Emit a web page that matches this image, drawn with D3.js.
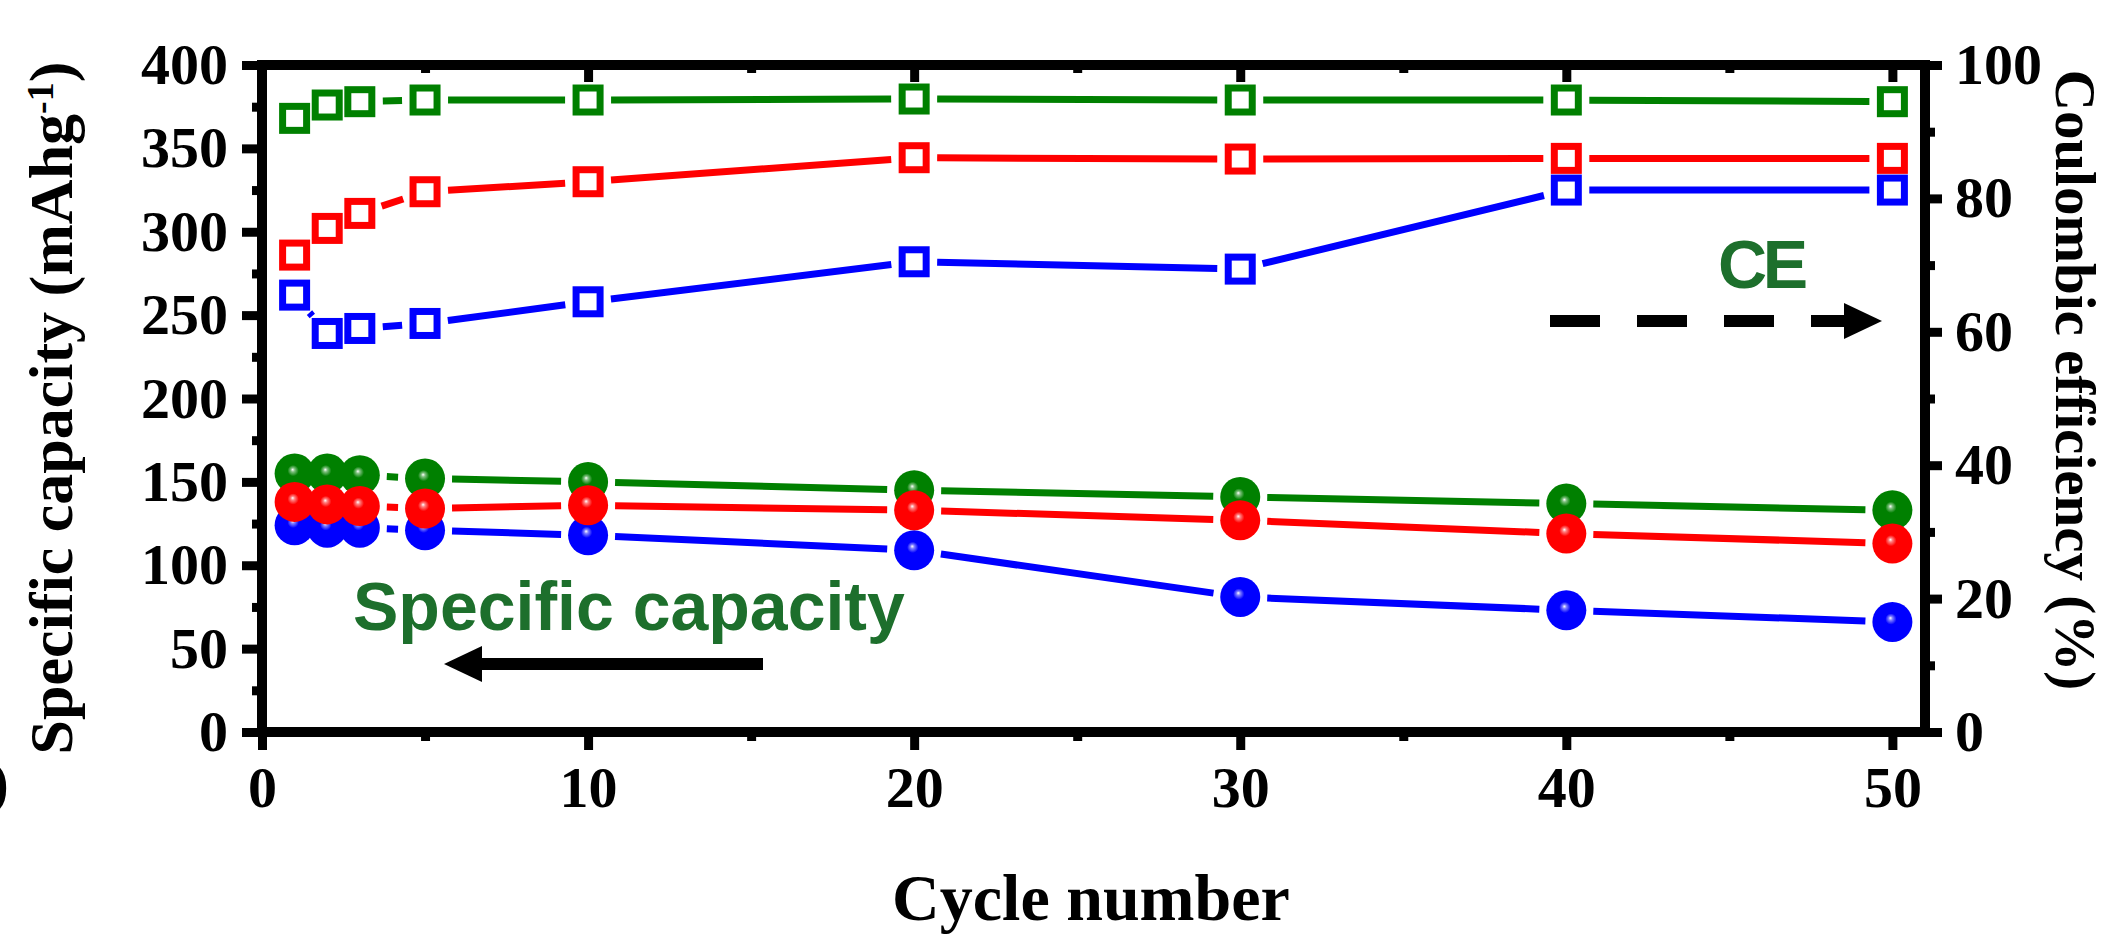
<!DOCTYPE html>
<html lang="en">
<head>
<meta charset="UTF-8">
<title>Capacity and CE vs cycle number</title>
<script src="https://cdn.jsdelivr.net/npm/d3@7"></script>
<style>
    body { margin: 0; background: #fff; }
    svg { display: block; }
    .axis line { stroke: #000; stroke-width: 9px; }
    .axis text {
        font-family: "Liberation Serif", "Times New Roman", serif;
        font-weight: bold;
        font-size: 58px;
        fill: #000;
    }
    .title {
        font-family: "Liberation Serif", "Times New Roman", serif;
        font-weight: bold;
        fill: #000;
    }
    .note {
        font-family: "Liberation Sans", Arial, sans-serif;
        font-weight: bold;
        fill: #1d6f2c;
    }
</style>
</head>
<body>
<svg width="2110" height="945"></svg>
<script>

// cycle numbers
var cycles = [1, 2, 3, 5, 10, 20, 30, 40, 50];

// specific capacity (mAh/g), filled circles
var capGreen = [155, 155, 154, 152, 150, 145, 141, 137, 133];
var capRed   = [138, 136.5, 135.5, 134, 136, 133, 127, 119, 113];
var capBlue  = [124, 122.5, 122.5, 121, 118, 109, 81, 73, 66];

// coulombic efficiency (%), open squares
var ceGreen = [92, 94, 94.5, 94.75, 94.75, 94.9, 94.75, 94.75, 94.5];
var ceRed   = [71.5, 75.5, 77.75, 81, 82.5, 86.1, 85.9, 86, 86];
var ceBlue  = [65.5, 59.75, 60.5, 61.25, 64.5, 70.5, 69.4, 81.25, 81.25];

var xTicks = [0, 10, 20, 30, 40, 50];
var yLeftTicks = [0, 50, 100, 150, 200, 250, 300, 350, 400];
var yRightTicks = [0, 20, 40, 60, 80, 100];

var series = [
    { color: "#0000ff", id: "blue",  cap: capBlue,  ce: ceBlue },
    { color: "#008000", id: "green", cap: capGreen, ce: ceGreen },
    { color: "#ff0000", id: "red",   cap: capRed,   ce: ceRed }
];

var svg = d3.select("svg");

var pl = 262, pr = 1925, pt = 65, pb = 732;

var x = d3.scaleLinear().domain([0, 51]).range([pl, pr]);
var yL = d3.scaleLinear().domain([0, 400]).range([pb, pt]);
var yR = d3.scaleLinear().domain([0, 100]).range([pb, pt]);

// gradients for the shiny balls
var defs = svg.append("defs");
series.forEach(function (s) {
    var g = defs.append("radialGradient")
        .attr("id", "ball-" + s.id)
        .attr("cx", "50%").attr("cy", "50%").attr("r", "50%")
        .attr("fx", "45%").attr("fy", "40%");
    g.append("stop").attr("offset", "0%").attr("stop-color", "#fff");
    g.append("stop").attr("offset", "10%").attr("stop-color", d3.interpolateRgb("#fff", s.color)(0.5));
    g.append("stop").attr("offset", "28%").attr("stop-color", s.color);
    g.append("stop").attr("offset", "100%").attr("stop-color", s.color);
});

// axes (ticks only, frame drawn separately)
function drawAxis(axis, tx, ty) {
    var g = svg.append("g").attr("class", "axis")
        .attr("transform", "translate(" + tx + "," + ty + ")")
        .call(axis);
    g.select(".domain").remove();
    return g;
}

drawAxis(d3.axisLeft(yL).tickValues(yLeftTicks).tickSize(20).tickPadding(14), pl, 0);
drawAxis(d3.axisLeft(yL).tickValues(d3.range(25, 400, 50)).tickSize(10).tickFormat(""), pl, 0);

drawAxis(d3.axisRight(yR).tickValues(yRightTicks).tickSize(17).tickPadding(13), pr, 0);
drawAxis(d3.axisRight(yR).tickValues(d3.range(10, 100, 20)).tickSize(10).tickFormat(""), pr, 0);

drawAxis(d3.axisBottom(x).tickValues(xTicks).tickSize(18).tickPadding(16), 0, pb);
drawAxis(d3.axisBottom(x).tickValues([5, 15, 25, 35, 45]).tickSize(9).tickFormat(""), 0, pb);

drawAxis(d3.axisTop(x).tickValues(xTicks.slice(1)).tickSize(-17).tickFormat(""), 0, pt);
drawAxis(d3.axisTop(x).tickValues([5, 15, 25, 35, 45]).tickSize(-8).tickFormat(""), 0, pt);

svg.append("rect")
    .attr("x", pl).attr("y", pt)
    .attr("width", pr - pl).attr("height", pb - pt)
    .attr("fill", "none").attr("stroke", "#000").attr("stroke-width", 10);

// line pieces stop short of the markers
function gapped(points, gap) {
    var segs = [];
    for (var i = 0; i < points.length - 1; i++) {
        var a = points[i], b = points[i + 1];
        var dx = b[0] - a[0], dy = b[1] - a[1];
        var len = Math.sqrt(dx * dx + dy * dy);
        if (len <= 2 * gap + 2) continue;
        var ux = dx / len, uy = dy / len;
        segs.push([a[0] + ux * gap, a[1] + uy * gap, b[0] - ux * gap, b[1] - uy * gap]);
    }
    return segs;
}

function drawSegs(g, segs, color) {
    g.selectAll("line")
        .data(segs)
        .enter().append("line")
        .attr("x1", function (d) { return d[0]; })
        .attr("y1", function (d) { return d[1]; })
        .attr("x2", function (d) { return d[2]; })
        .attr("y2", function (d) { return d[3]; })
        .attr("stroke", color).attr("stroke-width", 7);
}

var plot = svg.append("g");

// CE squares
series.forEach(function (s) {
    var pts = cycles.map(function (c, i) { return [x(c), yR(s.ce[i])]; });
    drawSegs(plot.append("g"), gapped(pts, 23), s.color);
    plot.append("g").selectAll("rect")
        .data(pts)
        .enter().append("rect")
        .attr("x", function (d) { return d[0] - 12; })
        .attr("y", function (d) { return d[1] - 12; })
        .attr("width", 24).attr("height", 24)
        .attr("fill", "#fff")
        .attr("stroke", s.color).attr("stroke-width", 7);
});

// capacity balls
series.forEach(function (s) {
    var pts = cycles.map(function (c, i) { return [x(c), yL(s.cap[i])]; });
    drawSegs(plot.append("g"), gapped(pts, 27), s.color);
});
series.forEach(function (s) {
    var pts = cycles.map(function (c, i) { return [x(c), yL(s.cap[i])]; });
    plot.append("g").selectAll("circle")
        .data(pts)
        .enter().append("circle")
        .attr("cx", function (d) { return d[0]; })
        .attr("cy", function (d) { return d[1]; })
        .attr("r", 20)
        .attr("fill", "url(#ball-" + s.id + ")");
});

// axis titles
svg.append("text").attr("class", "title")
    .attr("x", 1091).attr("y", 920)
    .attr("text-anchor", "middle")
    .style("font-size", "66px")
    .text("Cycle number");

var lt = svg.append("text").attr("class", "title")
    .attr("transform", "translate(72,408) rotate(-90)")
    .attr("text-anchor", "middle")
    .style("font-size", "62px");
lt.append("tspan").text("Specific capacity (mAhg");
lt.append("tspan").attr("dy", "-0.5em").style("font-size", "38px").text("-1");
lt.append("tspan").attr("dy", "0.31em").text(")");

svg.append("text").attr("class", "title")
    .attr("transform", "translate(2056,380) rotate(90)")
    .attr("text-anchor", "middle")
    .style("font-size", "57px")
    .text("Coulombic efficiency (%)");

// panel letter, cut at the left edge
svg.append("text").attr("class", "title")
    .attr("x", 9).attr("y", 803)
    .attr("text-anchor", "end")
    .style("font-size", "62px")
    .text("(b)");

// annotations
svg.append("text").attr("class", "note")
    .attr("x", 353).attr("y", 630)
    .style("font-size", "68px")
    .text("Specific capacity");

svg.append("text").attr("class", "note")
    .attr("x", 1718).attr("y", 288)
    .attr("textLength", 90)
    .style("font-size", "68px")
    .text("CE");

function arrow(x0, x1, yy, dashed) {
    var dir = x1 > x0 ? 1 : -1;
    var head = 38;
    svg.append("line")
        .attr("x1", x0).attr("y1", yy)
        .attr("x2", x1 - dir * head).attr("y2", yy)
        .attr("stroke", "#000").attr("stroke-width", 12)
        .attr("stroke-dasharray", dashed ? "50,37" : null);
    svg.append("path")
        .attr("d", "M" + x1 + "," + yy +
            "L" + (x1 - dir * head) + "," + (yy - 18) +
            "L" + (x1 - dir * head) + "," + (yy + 18) + "Z")
        .attr("fill", "#000");
}

arrow(763, 444, 664, false);
arrow(1550, 1882, 321, true);

</script>
</body>
</html>
